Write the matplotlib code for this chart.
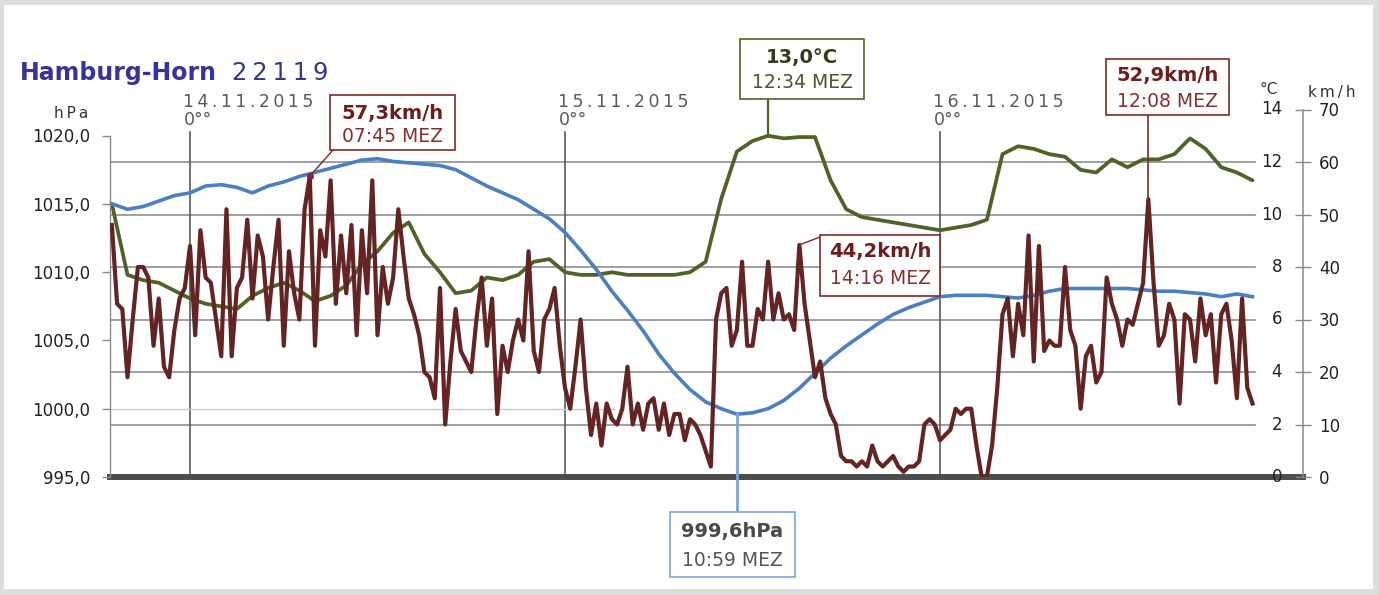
import matplotlib
matplotlib.use('Agg')
import matplotlib.pyplot as plt
import numpy as np
from matplotlib.patches import Rectangle
from matplotlib.lines import Line2D

# ---------------- data ----------------
T0 = -5.0  # first sample: hours relative to 14.11.2015 00:00 (13.11. 19:00)

# hourly air pressure (hPa)
pressure = [1015.0, 1014.6, 1014.8, 1015.2, 1015.6, 1015.8, 1016.3, 1016.4, 1016.2, 1015.8,
            1016.3, 1016.6, 1017.0, 1017.3, 1017.6, 1017.9, 1018.2, 1018.3, 1018.1, 1018.0,
            1017.9, 1017.8, 1017.5, 1016.9, 1016.3, 1015.8, 1015.3, 1014.6, 1013.9, 1012.9,
            1011.6, 1010.2, 1008.6, 1007.2, 1005.7, 1004.0, 1002.6, 1001.4, 1000.5, 1000.0,
            999.6, 999.7, 1000.0, 1000.6, 1001.5, 1002.6, 1003.7, 1004.6, 1005.4, 1006.2,
            1006.9, 1007.4, 1007.8, 1008.2, 1008.3, 1008.3, 1008.3, 1008.2, 1008.1, 1008.3,
            1008.6, 1008.8, 1008.8, 1008.8, 1008.8, 1008.8, 1008.7, 1008.6, 1008.6, 1008.5,
            1008.4, 1008.2, 1008.4, 1008.2]

# hourly temperature (°C)
temperature = [10.4, 7.7, 7.5, 7.4, 7.1, 6.8, 6.6, 6.5, 6.4, 6.9,
               7.2, 7.4, 7.1, 6.7, 6.9, 7.3, 8.1, 8.6, 9.3, 9.7,
               8.5, 7.8, 7.0, 7.1, 7.6, 7.5, 7.7, 8.2, 8.3, 7.8,
               7.7, 7.7, 7.8, 7.7, 7.7, 7.7, 7.7, 7.8, 8.2, 10.6,
               12.4, 12.8, 13.0, 12.9, 12.95, 12.95, 11.3, 10.2, 9.9, 9.8,
               9.7, 9.6, 9.5, 9.4, 9.5, 9.6, 9.8, 12.3, 12.6, 12.5,
               12.3, 12.2, 11.7, 11.6, 12.1, 11.8, 12.1, 12.1, 12.3, 12.9,
               12.5, 11.8, 11.6, 11.3]

# wind gusts every 20 minutes (km/h)
wind = [48, 33, 32, 19, 30, 40, 40, 38, 25, 34,
        21, 19, 28, 34, 36, 44, 27, 47, 38, 37,
        30, 23, 51, 23, 36, 38, 49, 34, 46, 42,
        30, 40, 49, 25, 43, 35, 30, 51, 57.3, 25,
        47, 42, 56.5, 33, 46, 35, 48, 27, 47, 35,
        56.5, 27, 40, 33, 38, 51, 42, 34, 31, 27,
        20, 19, 15, 36, 10, 22, 32, 24, 22, 20,
        30, 38, 25, 34, 12, 25, 20, 26, 30, 26,
        43, 24, 20, 30, 32, 36, 25, 17, 13, 21,
        30, 17, 8, 14, 6, 14, 11, 10, 13, 21,
        10, 14, 9, 14, 15, 9, 14, 8, 12, 12,
        7, 11, 10, 8, 5, 2, 30, 35, 36, 25,
        28, 41, 25, 25, 32, 30, 41, 30, 35, 30,
        31, 28, 44.2, 33, 26, 19, 22, 15, 12, 10,
        4, 3, 3, 2, 3, 2, 6, 3, 2, 3,
        4, 2, 1, 2, 2, 3, 10, 11, 10, 7,
        8, 9, 13, 12, 13, 13, 6, 0, 0, 6,
        17, 31, 34, 23, 33, 27, 46, 22, 44, 24,
        26, 25, 25, 40, 28, 25, 13, 23, 25, 18,
        20, 38, 33, 30, 25, 30, 29, 33, 37, 52.9,
        37, 25, 27, 33, 30, 14, 31, 30, 22, 34,
        27, 31, 18, 31, 33, 26, 15, 34, 17, 14]

day_hours = [0, 24, 48]
day_labels = ['14.11.2015', '15.11.2015', '16.11.2015']
p_ticks = [995, 1000, 1005, 1010, 1015, 1020]
t_ticks = [0, 2, 4, 6, 8, 10, 12, 14]
w_ticks = [0, 10, 20, 30, 40, 50, 60, 70]

wind_max_label = ['57,3km/h', '07:45 MEZ']
wind_max2_label = ['44,2km/h', '14:16 MEZ']
wind_max3_label = ['52,9km/h', '12:08 MEZ']
temp_max_label = ['13,0°C', '12:34 MEZ']
press_min_label = ['999,6hPa', '10:59 MEZ']
title_a = 'Hamburg-Horn'
title_b = '22119'

t_hour = T0 + np.arange(len(pressure))
t_wind = T0 + np.arange(len(wind)) / 3.0

# ---------------- layout ----------------
W, H = 1379, 595
C_P = '#4a80c0'
C_T = '#4f6228'
C_W = '#632423'

fig = plt.figure(figsize=(W / 100, H / 100), dpi=100, facecolor='#dddddd')
fig.add_artist(Rectangle((4 / W, 6 / H), (1373 - 4) / W, (590 - 6) / H,
                         transform=fig.transFigure, facecolor='white',
                         edgecolor='none', zorder=-10))

def fx(x):
    return x / W

def fy(y):
    return 1 - y / H

ax_left, ax_right, ax_bot, ax_top = 110, 1303, 477, 109.5
rect = [fx(ax_left), fy(ax_bot), (ax_right - ax_left) / W, (ax_bot - ax_top) / H]
x_lo = -5.12
x_hi = x_lo + (ax_right - ax_left) / 15.625
grid_end = x_lo + (1255 - ax_left) / 15.625

ax_t = fig.add_axes(rect)
ax_t.set_facecolor('none')
ax_t.set_xlim(x_lo, x_hi)
ax_t.set_ylim(0, 14)
ax_t.set_xticks([])
ax_t.set_yticks([])
for s in ['top', 'left']:
    ax_t.spines[s].set_visible(False)
ax_t.spines['right'].set_visible(False)
ax_t.spines['bottom'].set_color('#4d4d4d')
ax_t.spines['bottom'].set_linewidth(4.3)

# horizontal grid (°C levels)
for v in t_ticks[1:-1]:
    ax_t.plot([x_lo, grid_end], [v, v], color='#8f8f8f', lw=1.2, zorder=1)
# vertical day lines
vline_top = (ax_bot - 132) / (ax_bot - ax_top)
for d in day_hours:
    ax_t.axvline(d, ymin=0, ymax=vline_top, color='#5a5a5a', lw=1.2, zorder=1)

ax_t.plot(t_hour, temperature, color=C_T, lw=2.7, solid_joinstyle='round',
          solid_capstyle='round', zorder=3)

# pressure axis
ax_p = ax_t.twinx()
ax_p.set_xlim(x_lo, x_hi)
p_lo = 995
p_hi = p_lo + (ax_bot - ax_top) / 13.66
ax_p.set_ylim(p_lo, p_hi)
ax_p.yaxis.tick_left()
for s in ['top', 'right', 'bottom']:
    ax_p.spines[s].set_visible(False)
ax_p.spines['left'].set_color('#8a8a8a')
ax_p.spines['left'].set_linewidth(1.0)
ax_p.spines['left'].set_bounds(p_ticks[0], p_ticks[-1])
ax_p.set_yticks(p_ticks)
ax_p.set_yticklabels([f'{v:.1f}'.replace('.', ',') for v in p_ticks])
ax_p.tick_params(axis='y', direction='out', length=6, width=1, color='#8a8a8a',
                 pad=8, labelsize=12, labelcolor='#222222')
ax_p.hlines(1000, x_lo, x_lo + (615 - ax_left) / 15.625, color='#c8c8c8', lw=1.0, zorder=1)
ax_p.plot(t_hour, pressure, color=C_P, lw=2.6, solid_joinstyle='round', zorder=3)

# wind axis
ax_w = ax_t.twinx()
ax_w.set_xlim(x_lo, x_hi)
ax_w.set_ylim(0, 70)
for s in ['top', 'left', 'bottom']:
    ax_w.spines[s].set_visible(False)
ax_w.spines['right'].set_color('#8a8a8a')
ax_w.spines['right'].set_linewidth(1.1)
ax_w.set_yticks(w_ticks)
ax_w.set_yticklabels([str(v) for v in w_ticks])
ax_w.tick_params(axis='y', direction='inout', length=11, width=1, color='#8a8a8a',
                 pad=6, labelsize=12, labelcolor='#222222')
ax_w.plot(t_wind, wind, color=C_W, lw=3.0, solid_joinstyle='round', zorder=4)

# °C labels left of right spine
for v in t_ticks:
    ax_t.text(1 - 21 / (ax_right - ax_left), v, str(v), transform=ax_t.get_yaxis_transform(),
              ha='right', va='center', fontsize=12, color='#222222')

# axis unit labels
sp = '\u2009'
fig.text(fx(88), fy(114), sp.join('hPa'), ha='right', va='center', fontsize=11, color='#333333')
fig.text(fx(1278), fy(90), '°C', ha='right', va='center', fontsize=11, color='#333333')
fig.text(fx(1308), fy(92), sp.join('km/h'), ha='left', va='center', fontsize=11, color='#333333')

# title
fig.text(fx(20), fy(73), title_a, ha='left', va='center', fontsize=17, fontweight='bold',
         color='#34349a')
fig.text(fx(232), fy(73), sp.join(title_b), ha='left', va='center', fontsize=17.5,
         color='#34349a')

# day labels
def to_px(ax, x, y):
    d = ax.transData.transform((x, y))
    return d[0], H - d[1]

for d, lab in zip(day_hours, day_labels):
    xd, _ = to_px(ax_t, d, 0)
    fig.text(fx(xd - 7), fy(102), sp.join(lab), ha='left', va='center', fontsize=12.5,
             color='#595959')
    fig.text(fx(xd - 6), fy(120), '0°°', ha='left', va='center', fontsize=12.5,
             color='#595959')

# ---------------- callouts ----------------
def callout(box, lines, colors, edge, y1, y2, leader_pts, lcolor, llw, dot=None):
    x0, yb0, x1, yb1 = box
    fig.add_artist(Line2D([fx(p[0]) for p in leader_pts], [fy(p[1]) for p in leader_pts],
                          transform=fig.transFigure, color=lcolor, lw=llw, zorder=5))
    if dot is not None:
        fig.add_artist(Line2D([fx(dot[0])], [fy(dot[1])], transform=fig.transFigure,
                              marker='o', ms=4, color=lcolor, zorder=6))
    fig.add_artist(Rectangle((fx(x0), fy(yb1)), (x1 - x0) / W, (yb1 - yb0) / H,
                             transform=fig.transFigure, facecolor='white', edgecolor=edge,
                             lw=1.2, zorder=7))
    cx = (x0 + x1) / 2
    fig.text(fx(cx), fy(y1), lines[0], ha='center', va='center', fontsize=14,
             fontweight='bold', color=colors[0], zorder=8)
    fig.text(fx(cx), fy(y2), lines[1], ha='center', va='center', fontsize=13.5,
             color=colors[1], zorder=8)

w_arr = np.array(wind)
# 57,3 km/h
i1 = int(np.argmax(w_arr))
px1 = to_px(ax_w, t_wind[i1], wind[i1])
callout((330, 95, 455, 150), wind_max_label, ('#6e1c1c', '#843030'), '#7f2a2a', 114, 137,
        [px1, (333, 150)], '#7f2a2a', 1.0, dot=px1)
# 44,2 km/h
mask = (t_wind > 36) & (t_wind < 42)
i2 = int(np.where(mask)[0][np.argmax(w_arr[mask])])
px2 = to_px(ax_w, t_wind[i2], wind[i2])
callout((820, 235, 940, 296), wind_max2_label, ('#6e1c1c', '#843030'), '#7f2a2a', 251, 278,
        [px2, (820, 237)], '#7f2a2a', 1.0)
# 52,9 km/h
mask = t_wind > 55
i3 = int(np.where(mask)[0][np.argmax(w_arr[mask])])
px3 = to_px(ax_w, t_wind[i3], wind[i3])
callout((1106, 59, 1229, 115), wind_max3_label, ('#6e1c1c', '#843030'), '#7f2a2a', 76, 101,
        [px3, (px3[0], 115)], '#7f2a2a', 1.2)
# 13,0 °C
it = int(np.argmax(temperature))
pxt = to_px(ax_t, t_hour[it], temperature[it])
callout((740, 39, 864, 99), temp_max_label, ('#333b1e', '#4b5530'), C_T, 57, 83,
        [pxt, (pxt[0], 99)], C_T, 1.6)
# 999,6 hPa
ip = int(np.argmin(pressure))
pxp = to_px(ax_p, t_hour[ip], pressure[ip])
callout((670, 512, 795, 577), press_min_label, ('#4a4a4a', '#555555'), '#79a5dc', 531, 561,
        [pxp, (pxp[0], 512)], '#79a5dc', 2.0)

fig.savefig('out.png', dpi=100, facecolor=fig.get_facecolor())
